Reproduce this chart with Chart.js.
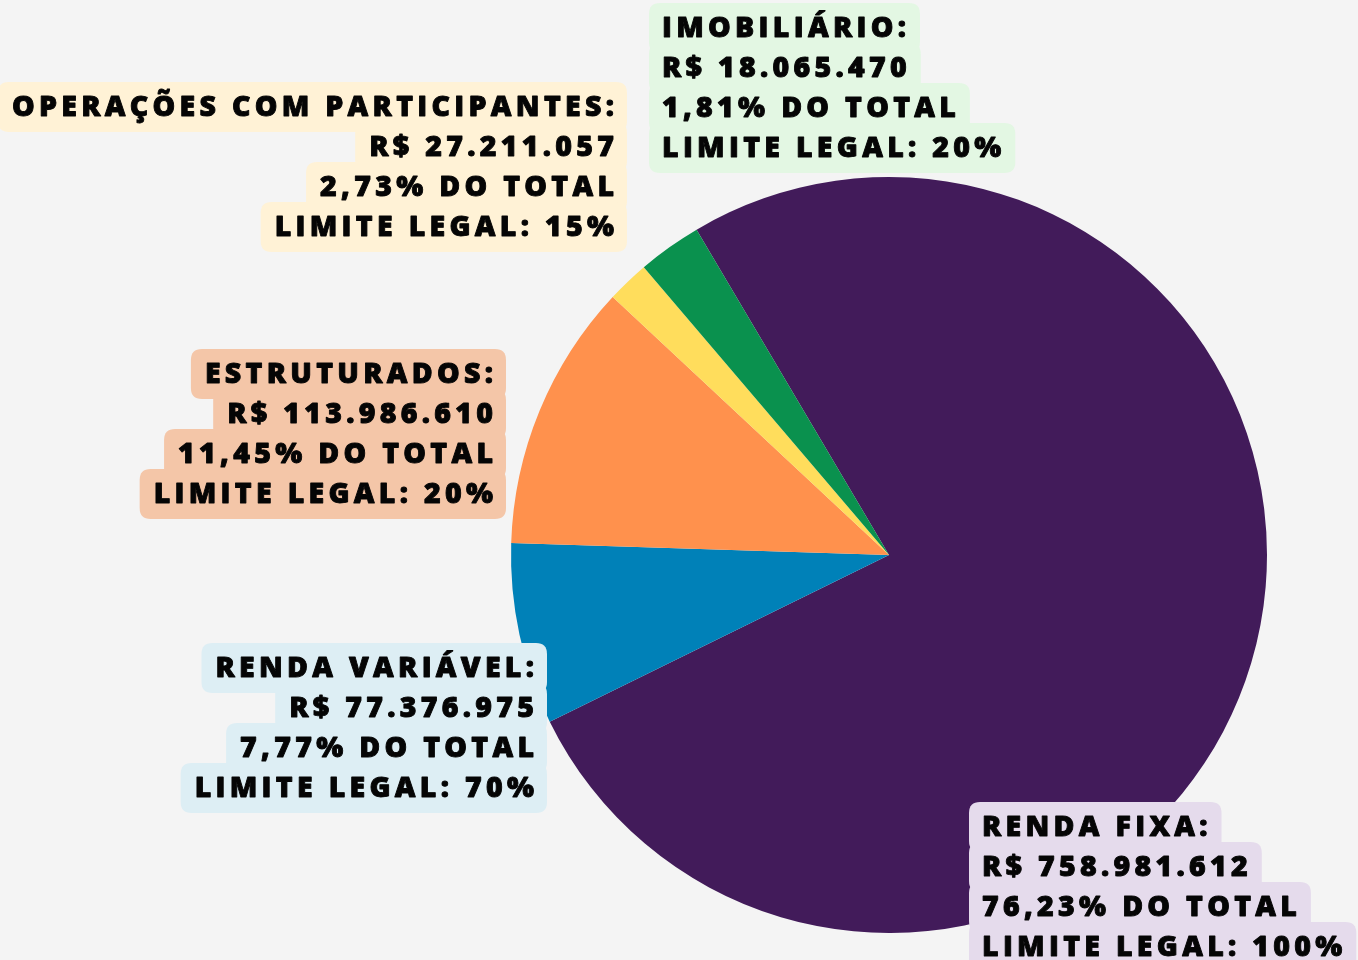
<!DOCTYPE html>
<html>
<head>
<meta charset="utf-8">
<script src="https://cdn.jsdelivr.net/npm/chart.js@4"></script>
<style>
  html, body { margin: 0; padding: 0; background: #f4f4f4; }
  #wrap { width: 1358px; height: 960px; position: relative; }
  canvas { display: block; }
</style>
</head>
<body>
<div id="wrap"><canvas id="c" width="1358" height="960"></canvas></div>
<script>
// ---- data ----
const categories = ['Renda Fixa', 'Renda Variável', 'Estruturados', 'Imobiliário', 'Operações com participantes'];
const values = [758981612, 77376975, 113986610, 18065470, 27211057];
const percents = ['76,23%', '7,77%', '11,45%', '1,81%', '2,73%'];
const limits = ['100%', '70%', '20%', '20%', '15%'];

// ---- styles ----
const sliceColors = ['#421b5a', '#0081b8', '#ff914d', '#ffdd5c', '#0a914e'];
const boxColors = ['#e5dbec', '#ddeef4', '#f4c6a8', '#e3f7e3', '#fff2d6'];
// label anchors: x, align, first baseline
const labelPos = [
  { x: 982, align: 'left', y: 836 },
  { x: 534, align: 'right', y: 677 },
  { x: 493, align: 'right', y: 383 },
  { x: 662, align: 'left', y: 37 },
  { x: 614, align: 'right', y: 116 }
];

function fmtBR(n) {
  return String(n).replace(/\B(?=(\d{3})+(?!\d))/g, '.');
}
function labelLines(i) {
  return [
    categories[i].toUpperCase() + ':',
    'R$ ' + fmtBR(values[i]),
    percents[i] + ' DO TOTAL',
    'LIMITE LEGAL: ' + limits[i]
  ];
}

function roundRect(ctx, x, y, w, h, r) {
  ctx.beginPath();
  ctx.moveTo(x + r, y);
  ctx.lineTo(x + w - r, y);
  ctx.quadraticCurveTo(x + w, y, x + w, y + r);
  ctx.lineTo(x + w, y + h - r);
  ctx.quadraticCurveTo(x + w, y + h, x + w - r, y + h);
  ctx.lineTo(x + r, y + h);
  ctx.quadraticCurveTo(x, y + h, x, y + h - r);
  ctx.lineTo(x, y + r);
  ctx.quadraticCurveTo(x, y, x + r, y);
  ctx.closePath();
}

const SPACING = 4.3;
const labelPlugin = {
  id: 'boxLabels',
  afterDraw(chart) {
    const ctx = chart.ctx;
    ctx.save();
    ctx.font = '800 28.5px "Open Sans"';
    try { ctx.letterSpacing = SPACING + 'px'; } catch (e) {}
    ctx.textBaseline = 'alphabetic';
    ctx.textAlign = 'left';
    const lineH = 40;
    categories.forEach((c, i) => {
      const p = labelPos[i];
      const lines = labelLines(i);
      const widths = lines.map(t => ctx.measureText(t).width - SPACING);
      // backgrounds
      ctx.fillStyle = boxColors[i];
      lines.forEach((t, k) => {
        const w = widths[k];
        const base = p.y + k * lineH;
        const x0 = p.align === 'left' ? p.x - 13 : p.x - w - 14;
        roundRect(ctx, x0, base - 34, w + 27, 50, 11);
        ctx.fill();
      });
      // text
      ctx.fillStyle = '#050505';
      ctx.strokeStyle = '#050505';
      ctx.lineWidth = 0.9;
      ctx.lineJoin = 'round';
      lines.forEach((t, k) => {
        const w = widths[k];
        const base = p.y + k * lineH;
        const x0 = p.align === 'left' ? p.x : p.x - w;
        ctx.fillText(t, x0, base);
        ctx.strokeText(t, x0, base);
      });
    });
    ctx.restore();
  }
};

const bgPlugin = {
  id: 'bg',
  beforeDraw(chart) {
    const ctx = chart.ctx;
    ctx.save();
    ctx.fillStyle = '#f4f4f4';
    ctx.fillRect(0, 0, chart.width, chart.height);
    ctx.restore();
  }
};

new Chart(document.getElementById('c'), {
  type: 'pie',
  data: {
    labels: categories,
    datasets: [{
      data: values,
      backgroundColor: sliceColors,
      borderWidth: 0
    }]
  },
  options: {
    responsive: false,
    animation: false,
    rotation: -30.6,
    layout: { padding: { left: 511, right: 91, top: 177, bottom: 27 } },
    plugins: {
      legend: { display: false },
      tooltip: { enabled: false }
    }
  },
  plugins: [bgPlugin, labelPlugin]
});
</script>
</body>
</html>
